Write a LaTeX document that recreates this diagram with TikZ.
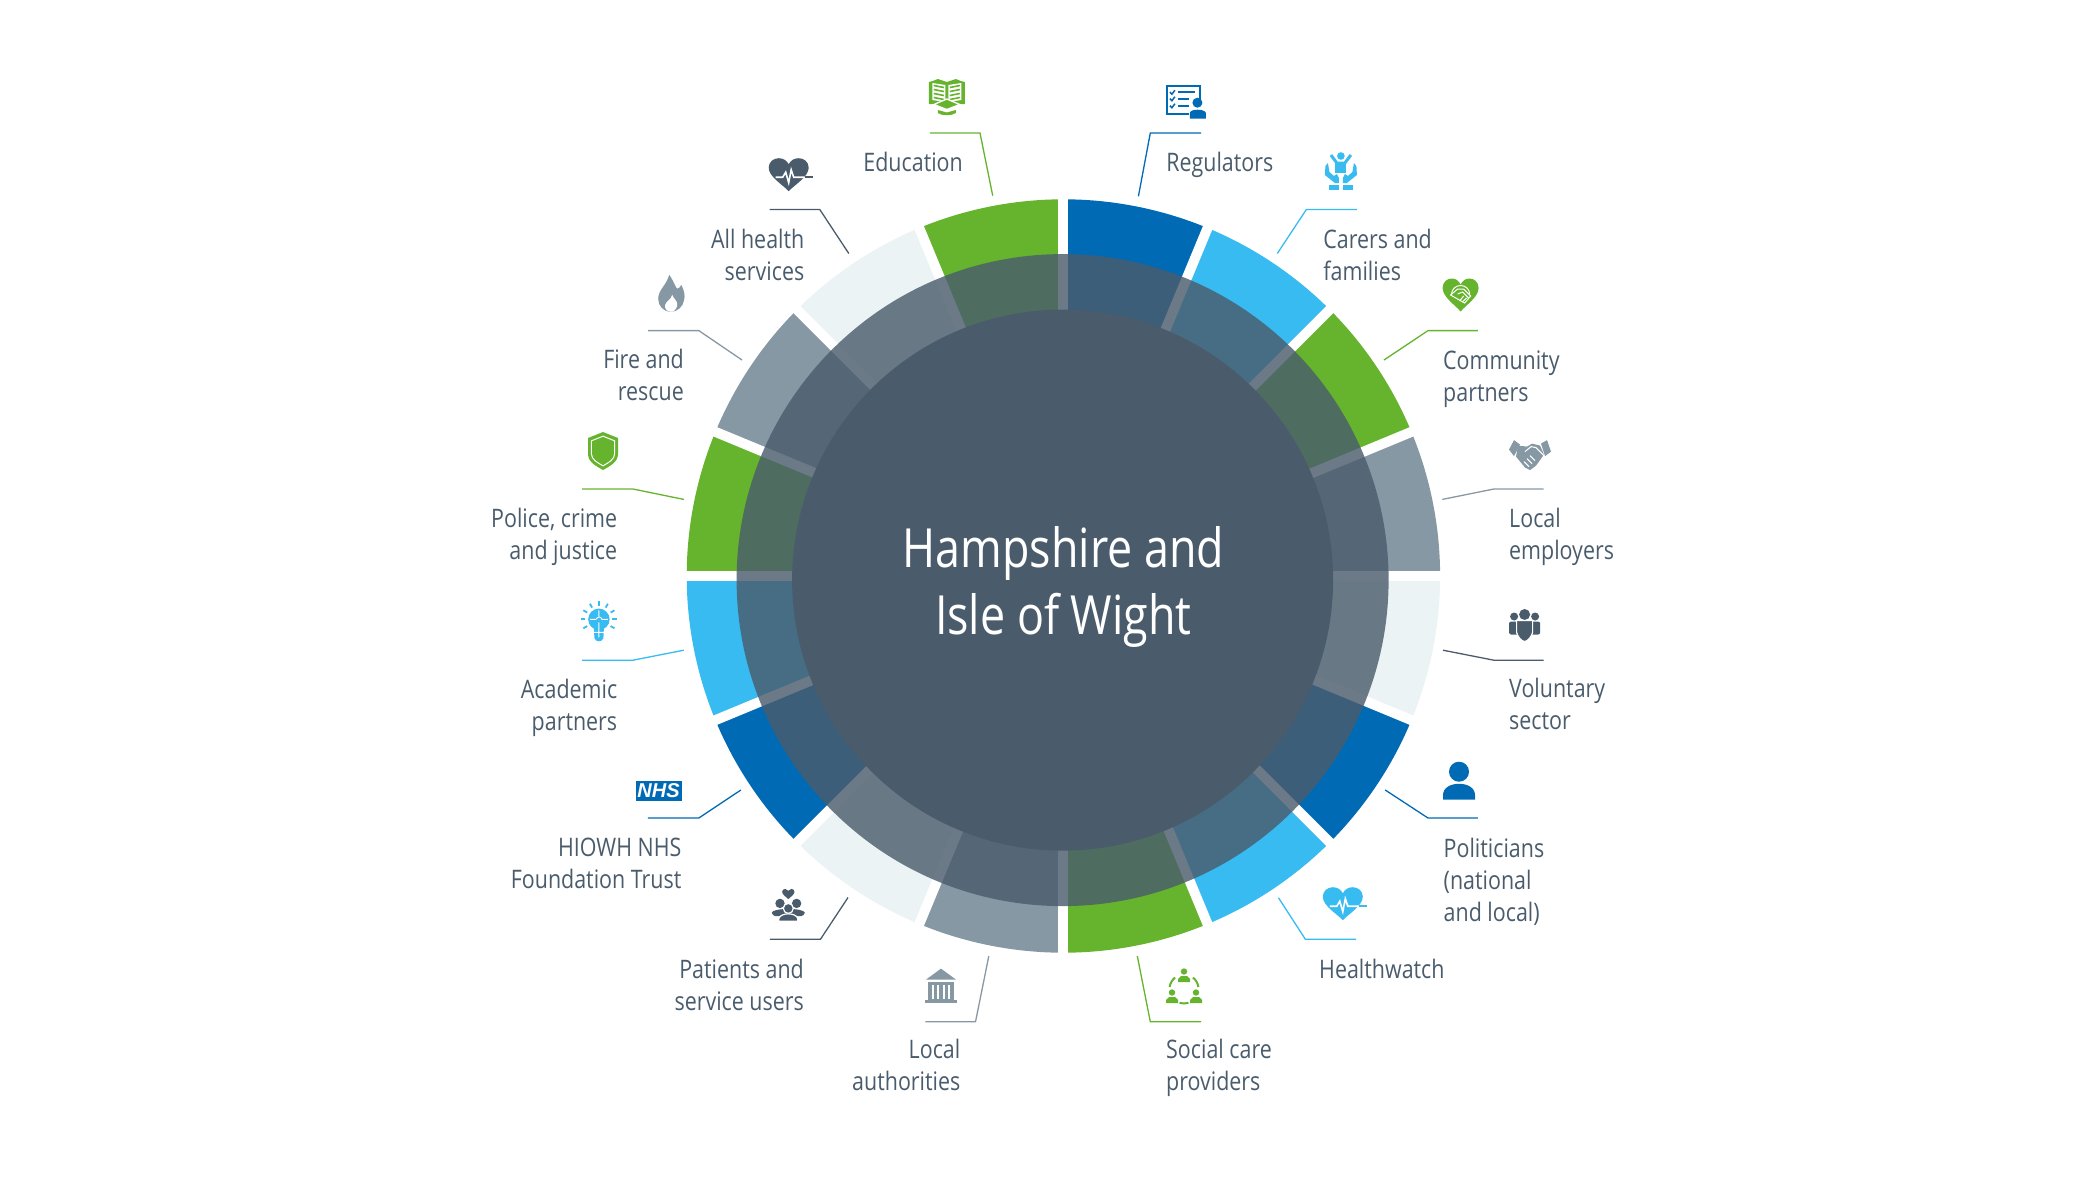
\documentclass[tikz,border=0pt]{standalone}
\usepackage{fontspec}
\setmainfont[FakeStretch=0.84]{Open Sans}
\newfontfamily\titlefont[FakeStretch=0.83]{Open Sans}
\newfontfamily\nhsfont{Liberation Sans}
\usetikzlibrary{positioning,calc}
\definecolor{navy}{HTML}{4A5C6C}
\definecolor{deepblue}{HTML}{006AB5}
\definecolor{skyblue}{HTML}{38BBF0}
\definecolor{leaf}{HTML}{66B32D}
\definecolor{slate}{HTML}{8798A5}
\definecolor{pale}{HTML}{EBF3F5}
\newcommand{\heartshape}{(0,16.5) .. controls (-6,10) and (-20,2) .. (-20,-7) .. controls (-20,-13) and (-15,-16.5) .. (-10,-16.5) .. controls (-5,-16.5) and (-2,-14) .. (0,-10.5) .. controls (2,-14) and (5,-16.5) .. (10,-16.5) .. controls (15,-16.5) and (20,-13) .. (20,-7) .. controls (20,2) and (6,10) .. (0,16.5) -- cycle}
\tikzset{
  %Define style for the labels
  lbl/.style={font=\fontsize{25.5}{32}\selectfont, text=navy, inner sep=0pt},
  lblleft/.style={lbl, align=right, anchor=base east},
  lblright/.style={lbl, align=left, anchor=base west},
  title/.style={font=\titlefont\fontsize{54}{67}\selectfont, text=white, align=center, inner sep=0pt},
  % Define leader line style
  lead/.style={draw=#1, line width=1.3pt, line join=miter},
  %Define the small pictures
  pics/iconlist/.style={code={
    \draw[#1, line width=2.4] (-19,-16) rectangle (14,12);
    \foreach \y/\e in {-9.5/9,-3/3,4/3} {
      \draw[#1, line width=1.5] (-16,\y) -- (-14,\y+2) -- (-11,\y-2);
      \draw[#1, line width=1.8] (-8,\y) -- (\e,\y);
    }
    \fill[white] (3,-1) rectangle (22,18);
    \fill[#1] (11.5,1) circle (5);
    \fill[#1] (4,17) -- (4,11) .. controls (5,7) and (18,7) .. (20,11) -- (20,17) -- cycle;
  }},
  pics/iconhands/.style={code={
    \fill[#1] (0,-15) circle (3.8);
    \draw[#1, line width=3] (-10,-16) -- (-4,-8) -- (4,-8) -- (10,-16);
    \fill[#1] (-5.5,-9) rectangle (5.5,1.5);
    \foreach \s in {-1,1} {
      \begin{scope}[xscale=\s]
        \fill[#1] (-15.5,-5) -- (-13,-8) -- (-11.5,1) -- (-7,5) -- (-4,3) -- (-2,7) -- (-2,12) -- (-6,12) -- (-16,4) -- cycle;
        \fill[#1] (-12,14) rectangle (-2,19);
      \end{scope}
    }
  }},
  pics/iconheartshake/.style={code={
    \fill[#1, xscale=0.9] \heartshape;
    \draw[white, line width=1] (-9,-1) arc (180:360:9 and 8.5);
    \draw[white, line width=1] (-10,0) -- (-3,-6) -- (3,-6) -- (10,1) -- (4,8) -- (-3,4) -- cycle;
    \draw[white, line width=1] (-3,-1) -- (2,-3) -- (8,3) (-1,6) -- (3,1) (1.5,7) -- (6,3);
  }},
  pics/iconshake/.style={code={
    \fill[#1] (-21,-5) -- (-16,-14.5) -- (-10,-10) -- (-16,1.5) -- cycle;
    \fill[#1] (21,-3) -- (17,-14.5) -- (11,-11) -- (15,1.5) -- cycle;
    \fill[#1] (-12,-9) -- (-3,-8) -- (2,-11) -- (10,-9) -- (14,0) -- (6,11) -- (0,15.5) -- (-5,13) -- (-14,2) -- cycle;
    \draw[white, line width=1] (-5,-3) -- (1,-8) -- (6,-7) -- (14,1);
    \draw[white, line width=1] (5,6) -- (0,1) (2,9) -- (-3,4) (-1,12) -- (-6,7);
  }},
  pics/iconcrowd/.style={code={
    \fill[#1] (0,-11) circle (5.5) (-10.5,-9) circle (4) (10.5,-9) circle (4);
    \fill[#1, rounded corners=2] (-15.5,-4) rectangle (15.5,9);
    \draw[white, line width=1.2, fill=#1] (-8,-5) -- (8,-5) -- (8,7) .. controls (7,11) and (3,16) .. (0,16) .. controls (-3,16) and (-7,11) .. (-8,7) -- cycle;
  }},
  pics/iconperson/.style={code={
    \fill[#1] (0,-9.3) circle (10);
    \fill[#1] (-16,18.5) -- (-16,14) .. controls (-16,-1) and (16,-1) .. (16,14) -- (16,18.5) -- cycle;
  }},
  pics/iconheartbeat/.style={code={
    \fill[#1] \heartshape;
    \draw[#1, line width=1.6] (16,2.5) -- (24,2.5);
    \draw[white, line width=1.6] (-13,2.5) -- (-6,2.5) -- (-3,-2.5) -- (0,8) -- (2.5,-5) -- (5,2.5) -- (16,2.5);
  }},
  pics/iconcircle/.style={code={
    \foreach \x/\y in {0/-10,-12/11,12/11} {
      \fill[#1] (\x,\y-4.5) circle (3.2);
      \fill[#1] (\x-6,\y+6) -- (\x-6,\y+3) -- (\x-3,\y) -- (\x+3,\y) -- (\x+6,\y+3) -- (\x+6,\y+6) -- cycle;
    }
    \foreach \a/\w in {-30/22,-150/22,90/18} {
      \draw[#1, line width=2] ($(0,3)+(\a-\w:14.5)$) arc (\a-\w:\a+\w:14.5);
    }
  }},
  pics/iconbank/.style={code={
    \fill[#1] (0,-17) -- (15,-6) -- (-15,-6) -- cycle;
    \fill[#1] (-13,-3.5) rectangle (13,14);
    \foreach \x in {-8,-3,3,8} {
      \fill[white] (\x-0.6,-1) rectangle (\x+0.6,13);
    }
    \fill[#1] (-16,14) rectangle (16,17);
  }},
  pics/iconpatients/.style={code={
    \begin{scope}[shift={(0,-10.7)}, scale=0.31]
      \fill[#1] \heartshape;
    \end{scope}
    \fill[#1] (-8.3,-1.3) circle (4.7) (8.3,-1.3) circle (4.7);
    \fill[#1] (-16.5,8) .. controls (-16,3) and (16,3) .. (16.5,8) .. controls (16,12) and (10,12) .. (8,11) -- (-8,11) .. controls (-10,12) and (-16,12) .. (-16.5,8) -- cycle;
    \draw[white, fill=#1, line width=1.2] (0,3.7) circle (5);
    \draw[white, fill=#1, line width=1.2] (-9.5,16.5) -- (-9.5,14) .. controls (-8,7.5) and (8,7.5) .. (9.5,14) -- (9.5,16.5) -- cycle;
  }},
  pics/iconbulb/.style={code={
    \fill[#1] (0,-2) circle (10.7);
    \fill[#1] (-5,6) -- (5,6) -- (4.5,17) .. controls (3,21) and (-3,21) .. (-4.5,17) -- cycle;
    \draw[white, line width=0.9] (-9,-2) -- (-3,-2) .. controls (-1,-5) and (2,-5) .. (3,-2) -- (9,-2) (0,-11) -- (0,-5) (0,1) -- (0,16) (-6,11) -- (6,11);
    \foreach \a in {-210,-180,-150,-120,-90,-60,-30,0,30} {
      \draw[#1, line width=1.8] (\a:13.5) ++(0,-2) -- ++(\a:4.5);
    }
  }},
  pics/iconshield/.style={code={
    \fill[#1] (0,-19) -- (15,-13) -- (15,3) .. controls (15,11) and (7,15) .. (0,19) .. controls (-7,15) and (-15,11) .. (-15,3) -- (-15,-13) -- cycle;
    \draw[white, line width=1, scale=0.78] (0,-19) -- (15,-13) -- (15,3) .. controls (15,11) and (7,15) .. (0,19) .. controls (-7,15) and (-15,11) .. (-15,3) -- (-15,-13) -- cycle;
  }},
  pics/iconflame/.style={code={
    \fill[#1] (-2,-19) .. controls (3,-12) and (4,-7) .. (6,-5) .. controls (8,-6) and (10,-7) .. (10,-9) .. controls (13,-4) and (14,2) .. (13,6) .. controls (12,13) and (6,18) .. (0,18) .. controls (-8,18) and (-13,12) .. (-13,5) .. controls (-13,-4) and (-5,-8) .. (-2,-19) -- cycle;
    \fill[white] (1,1) .. controls (2,5) and (7,7) .. (6,12) .. controls (5,16) and (2,18) .. (0,18) .. controls (-4,18) and (-7,15) .. (-6,11) .. controls (-5,7) and (0,6) .. (1,1) -- cycle;
  }},
  pics/iconbook/.style={code={
    \fill[#1] (-18,-15) -- (-14,-16) -- (-9,-18) -- (0,-15) -- (9,-18) -- (14,-16) -- (18,-15) -- (18,7) -- (-18,7) -- cycle;
    \fill[white] (-14.5,-14) -- (-1.5,-12) -- (-1.5,5) -- (-14.5,3) -- cycle (14.5,-14) -- (1.5,-12) -- (1.5,5) -- (14.5,3) -- cycle;
    \foreach \y in {-9,-5,-1,3} {
      \draw[#1, line width=1.6] (-13,\y-2.5) -- (-3,\y-0.5) (3,\y-0.5) -- (13,\y-2.5);
    }
    \draw[white, fill=#1, line width=1.3] (-13,7.5) -- (0,2) -- (13,7.5) -- (0,12.5) -- cycle;
    \fill[#1] (-9,13) -- (0,15.5) -- (9,13) -- (9,16) .. controls (5,19) and (-5,19) .. (-9,16) -- cycle;
  }},
}
\begin{document}
\begin{tikzpicture}[x=1pt,y=-1pt]
  \useasboundingbox (0,0) rectangle (2100,1181);
  \coordinate (hub) at (1063.4,576);
  \coordinate (mid) at (1062.6,580.1);

  % ring
  \foreach \a/\col in {-90/deepblue,-67.5/skyblue,-45/leaf,-22.5/slate,0/pale,22.5/deepblue,45/skyblue,67.5/leaf,90/slate,112.5/pale,135/deepblue,157.5/skyblue,180/leaf,202.5/slate,225/pale,247.5/leaf} {
    \fill[\col] (hub) -- ++(\a:376.7) arc (\a:\a+22.5:376.7) -- cycle;
  }
  \foreach \a in {0,22.5,...,157.5} {
    \draw[white, line width=10pt] ($(hub)+(\a:385)$) -- ($(hub)+(\a+180:385)$);
  }
  \fill[navy, opacity=0.81] (mid) circle (326);
  \node[circle, fill=navy, minimum size=541pt, inner sep=0pt] (core) at (mid) {};
  \node[title] (name) at (1063.4,587) {Hampshire and\\Isle of Wight};

  % right side
  \coordinate (regA) at (1138.4,196.3); \coordinate (regB) at (1150.3,133); \coordinate (regC) at (1201.2,133);
  \draw[lead=deepblue] (regA) -- (regB) -- (regC);
  \node[lblright] (reg) at (1166.2,171) {Regulators};
  \pic (regicon) at (1185.9,101.7) {iconlist=deepblue};

  \coordinate (carA) at (1277.3,253.5); \coordinate (carB) at (1306.4,209.4); \coordinate (carC) at (1356.9,209.4);
  \draw[lead=skyblue] (carA) -- (carB) -- (carC);
  \node[lblright] (car) at (1323.2,280) {Carers and\\families};
  \pic (caricon) at (1340.9,171) {iconhands=skyblue};

  \coordinate (comA) at (1384,360); \coordinate (comB) at (1428,330.6); \coordinate (comC) at (1477.9,330.6);
  \draw[lead=leaf] (comA) -- (comB) -- (comC);
  \node[lblright] (com) at (1443,401) {Community\\partners};
  \pic (comicon) at (1460.6,295) {iconheartshake=leaf};

  \coordinate (empA) at (1442.3,499.4); \coordinate (empB) at (1493.9,489); \coordinate (empC) at (1543.7,489);
  \draw[lead=slate] (empA) -- (empB) -- (empC);
  \node[lblright] (emp) at (1509,559) {Local\\employers};
  \pic (empicon) at (1530,454.6) {iconshake=slate};

  \coordinate (volA) at (1443,650.2); \coordinate (volB) at (1493.9,660.2); \coordinate (volC) at (1543.7,660.2);
  \draw[lead=navy] (volA) -- (volB) -- (volC);
  \node[lblright] (vol) at (1509,729) {Voluntary\\sector};
  \pic (volicon) at (1524.6,625.5) {iconcrowd=navy};

  \coordinate (polA) at (1385.2,790); \coordinate (polB) at (1428,818); \coordinate (polC) at (1477.9,818);
  \draw[lead=deepblue] (polA) -- (polB) -- (polC);
  \node[lblright] (pol) at (1443.5,921) {Politicians\\(national\\and local)};
  \pic (policon) at (1459,781) {iconperson=deepblue};

  \coordinate (watA) at (1278.5,897.8); \coordinate (watB) at (1305.3,939.2); \coordinate (watC) at (1356.2,939.2);
  \draw[lead=skyblue] (watA) -- (watB) -- (watC);
  \node[lblright] (wat) at (1319,978) {Healthwatch};
  \pic (waticon) at (1342.8,903.7) {iconheartbeat=skyblue};

  \coordinate (socA) at (1137.3,956); \coordinate (socB) at (1150.3,1021.8); \coordinate (socC) at (1201.2,1021.8);
  \draw[lead=leaf] (socA) -- (socB) -- (socC);
  \node[lblright] (soc) at (1166,1090.6) {Social care\\providers};
  \pic (socicon) at (1184,986) {iconcircle=leaf};

  % left side
  \coordinate (autA) at (988.8,956); \coordinate (autB) at (975.5,1021.8); \coordinate (autC) at (925.3,1021.8);
  \draw[lead=slate] (autA) -- (autB) -- (autC);
  \node[lblleft] (aut) at (960.5,1090.6) {Local\\authorities};
  \pic (auticon) at (941,985.6) {iconbank=slate};

  \coordinate (patA) at (848,897.5); \coordinate (patB) at (820.5,939.2); \coordinate (patC) at (769.9,939.2);
  \draw[lead=navy] (patA) -- (patB) -- (patC);
  \node[lblleft] (pat) at (804,1010.5) {Patients and\\service users};
  \pic (paticon) at (788.3,904.7) {iconpatients=navy};

  \coordinate (nhsA) at (740.9,790); \coordinate (nhsB) at (698.8,818); \coordinate (nhsC) at (647.9,818);
  \draw[lead=deepblue] (nhsA) -- (nhsB) -- (nhsC);
  \node[lblleft] (nhs) at (681.5,888.5) {HIOWH NHS\\Foundation Trust};
  \node[fill=deepblue, text=white, inner sep=0pt, minimum width=46pt, minimum height=20pt, font=\nhsfont\bfseries\itshape\fontsize{20}{20}\selectfont] (nhsicon) at (658.6,791) {NHS};

  \coordinate (acaA) at (683.8,650.2); \coordinate (acaB) at (632.9,660.2); \coordinate (acaC) at (582,660.2);
  \draw[lead=skyblue] (acaA) -- (acaB) -- (acaC);
  \node[lblleft] (aca) at (617.4,730.8) {Academic\\partners};
  \pic (acaicon) at (598.9,621.3) {iconbulb=skyblue};

  \coordinate (poliA) at (683.8,499.4); \coordinate (poliB) at (632.9,489); \coordinate (poliC) at (582,489);
  \draw[lead=leaf] (poliA) -- (poliB) -- (poliC);
  \node[lblleft] (poli) at (617.4,559) {Police, crime\\and justice};
  \pic (poliicon) at (603,451) {iconshield=leaf};

  \coordinate (fireA) at (742,360); \coordinate (fireB) at (698.8,330.6); \coordinate (fireC) at (648.2,330.6);
  \draw[lead=slate] (fireA) -- (fireB) -- (fireC);
  \node[lblleft] (fire) at (684,400.5) {Fire and\\rescue};
  \pic (fireicon) at (671.2,293.8) {iconflame=slate};

  \coordinate (allA) at (848.8,253.5); \coordinate (allB) at (819.7,209.4); \coordinate (allC) at (769.6,209.4);
  \draw[lead=navy] (allA) -- (allB) -- (allC);
  \node[lblleft] (all) at (804.5,280) {All health\\services};
  \pic (allicon) at (788.7,174.7) {iconheartbeat=navy};

  \coordinate (eduA) at (992.7,195.7); \coordinate (eduB) at (980,133); \coordinate (eduC) at (929.9,133);
  \draw[lead=leaf] (eduA) -- (eduB) -- (eduC);
  \node[lblleft] (edu) at (963,171) {Education};
  \pic (eduicon) at (946.8,97) {iconbook=leaf};
\end{tikzpicture}
\end{document}
